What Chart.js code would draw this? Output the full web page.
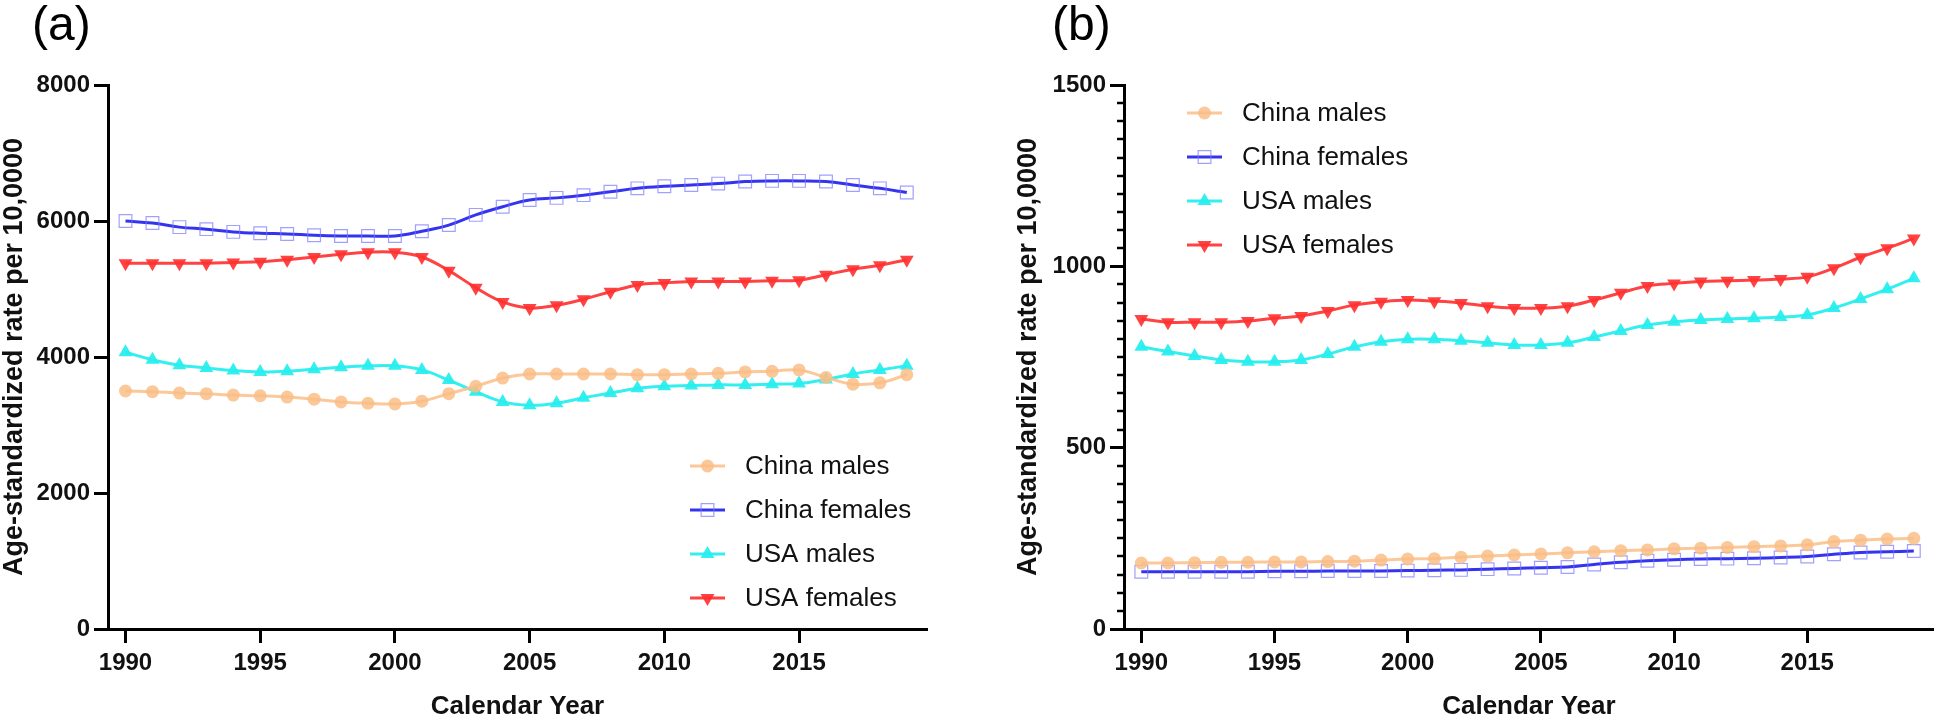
<!DOCTYPE html>
<html>
<head>
<meta charset="utf-8">
<script src="https://cdn.jsdelivr.net/npm/chart.js@4/dist/chart.umd.min.js"></script>
<style>
  body { margin: 0; background: #fff; }
  canvas { position: absolute; top: 0; }
  #chart_a { left: 0; }
  #chart_b { left: 970px; }
</style>
</head>
<body>
<canvas id="chart_a" width="960" height="720"></canvas>
<canvas id="chart_b" width="974" height="720"></canvas>
<script>
var years = [1990, 1991, 1992, 1993, 1994, 1995, 1996, 1997, 1998, 1999,
             2000, 2001, 2002, 2003, 2004, 2005, 2006, 2007, 2008, 2009,
             2010, 2011, 2012, 2013, 2014, 2015, 2016, 2017, 2018, 2019];
var xTicks = [1990, 1995, 2000, 2005, 2010, 2015];

// panel (a)
var chinaMalesA = [3500, 3490, 3470, 3460, 3440, 3430, 3410, 3380, 3340, 3320, 3310, 3350, 3460, 3570, 3690, 3750, 3750, 3750, 3750, 3740, 3740, 3750, 3760, 3780, 3790, 3810, 3700, 3600, 3620, 3740];
var chinaFemalesA = [6000, 5970, 5910, 5880, 5840, 5820, 5810, 5790, 5780, 5780, 5780, 5850, 5940, 6090, 6210, 6310, 6340, 6380, 6430, 6480, 6510, 6530, 6550, 6580, 6590, 6590, 6580, 6530, 6480, 6420];
var usaMalesA = [4070, 3960, 3880, 3840, 3800, 3780, 3790, 3820, 3850, 3870, 3870, 3810, 3660, 3490, 3340, 3290, 3320, 3400, 3470, 3540, 3570, 3580, 3590, 3590, 3600, 3610, 3670, 3750, 3810, 3870];
var usaFemalesA = [5380, 5380, 5380, 5380, 5390, 5400, 5430, 5470, 5510, 5540, 5540, 5470, 5270, 5020, 4810, 4720, 4760, 4850, 4960, 5060, 5090, 5110, 5110, 5110, 5120, 5130, 5210, 5290, 5350, 5430];
var yTicksA = [0, 2000, 4000, 6000, 8000];

// panel (b)
var chinaMalesB = [182, 182, 183, 184, 184, 185, 185, 186, 187, 190, 193, 194, 198, 201, 204, 207, 210, 213, 216, 218, 221, 223, 225, 227, 229, 232, 241, 245, 248, 250];
var chinaFemalesB = [158, 158, 158, 158, 158, 159, 159, 160, 160, 160, 161, 162, 163, 165, 167, 169, 171, 178, 184, 188, 191, 193, 194, 195, 197, 200, 206, 211, 213, 215];
var usaMalesB = [778, 765, 753, 742, 737, 737, 742, 758, 778, 792, 799, 799, 795, 789, 783, 783, 789, 805, 822, 838, 847, 852, 855, 857, 860, 866, 885, 910, 937, 967];
var usaFemalesB = [855, 846, 846, 846, 849, 857, 863, 877, 893, 902, 907, 904, 899, 890, 885, 885, 890, 907, 927, 946, 953, 958, 960, 962, 965, 971, 995, 1025, 1050, 1077];
var yTicksB = [0, 500, 1000, 1500];

var seriesNames = ['China males', 'China females', 'USA males', 'USA females'];

var FONT = 'Arial, "Liberation Sans", Helvetica, sans-serif';

function pts(values) {
  return years.map(function (y, i) { return { x: y, y: values[i] }; });
}

function makeDatasets(cm, cf, um, uf) {
  return [
    {
      label: seriesNames[0], data: pts(cm),
      borderColor: 'rgba(250,190,135,0.85)', borderWidth: 3,
      pointStyle: 'circle', pointRadius: 6.5,
      pointBackgroundColor: 'rgba(250,190,135,0.85)', pointBorderWidth: 0
    },
    {
      label: seriesNames[1], data: pts(cf),
      borderColor: '#3434F0', borderWidth: 3,
      pointStyle: 'rect', pointRadius: 9,
      pointBackgroundColor: 'rgba(0,0,0,0)', pointBorderColor: 'rgba(120,120,255,0.7)', pointBorderWidth: 1.2
    },
    {
      label: seriesNames[2], data: pts(um),
      borderColor: 'rgba(40,238,238,0.95)', borderWidth: 3,
      pointStyle: 'triangle', pointRadius: 8,
      pointBackgroundColor: 'rgba(40,238,238,0.95)', pointBorderWidth: 0
    },
    {
      label: seriesNames[3], data: pts(uf),
      borderColor: 'rgba(255,50,50,0.92)', borderWidth: 3,
      pointStyle: 'triangle', pointRotation: 180, pointRadius: 8,
      pointBackgroundColor: 'rgba(255,50,50,0.92)', pointBorderWidth: 0
    }
  ];
}

// legend drawn inside the plot, GraphPad style
function legendPlugin(x0, y0, gap) {
  return {
    id: 'innerLegend',
    afterDraw: function (chart) {
      var ctx = chart.ctx;
      ctx.save();
      chart.data.datasets.forEach(function (ds, i) {
        var y = y0 + i * gap;
        ctx.strokeStyle = ds.borderColor;
        ctx.lineWidth = ds.borderWidth;
        ctx.beginPath();
        ctx.moveTo(x0, y);
        ctx.lineTo(x0 + 35, y);
        ctx.stroke();
        var opts = {
          pointStyle: ds.pointStyle, radius: ds.pointRadius,
          rotation: ds.pointRotation || 0, borderWidth: ds.pointBorderWidth
        };
        ctx.fillStyle = ds.pointBackgroundColor;
        ctx.strokeStyle = ds.pointBorderColor || ds.pointBackgroundColor;
        ctx.lineWidth = ds.pointBorderWidth || 0;
        Chart.helpers.drawPoint(ctx, opts, x0 + 17.5, y);
        ctx.fillStyle = '#111';
        ctx.font = '26px ' + FONT;
        ctx.textBaseline = 'middle';
        ctx.textAlign = 'left';
        ctx.fillText(ds.label, x0 + 55, y + 1);
      });
      ctx.restore();
    }
  };
}

function panelLabel(text, x, y) {
  return {
    id: 'panelLabel',
    afterDraw: function (chart) {
      var ctx = chart.ctx;
      ctx.save();
      ctx.fillStyle = '#000';
      ctx.font = '48px ' + FONT;
      ctx.textBaseline = 'alphabetic';
      ctx.fillText(text, x, y);
      ctx.restore();
    }
  };
}

var minorTicks = {
  id: 'minorTicks',
  afterDraw: function (chart) {
    var ctx = chart.ctx, ys = chart.scales.y, left = chart.chartArea.left;
    ctx.save();
    ctx.strokeStyle = '#000';
    ctx.lineWidth = 2.5;
    for (var v = 50; v < 1500; v += 50) {
      if (v % 500 === 0) continue;
      var py = Math.round(ys.getPixelForValue(v));
      ctx.beginPath();
      ctx.moveTo(left - 7, py);
      ctx.lineTo(left, py);
      ctx.stroke();
    }
    ctx.restore();
  }
};

function makeOptions(yMax, yTicks, yWidth, padLeft, padRight, yTitlePad) {
  return {
    responsive: false,
    animation: false,
    layout: { padding: { top: 85, right: padRight, left: padLeft, bottom: 0 } },
    elements: { line: { tension: 0.4 } },
    plugins: { legend: { display: false }, tooltip: { enabled: false } },
    scales: {
      x: {
        type: 'linear', min: 1989.35, max: 2019.75,
        afterBuildTicks: function (scale) {
          scale.ticks = xTicks.map(function (v) { return { value: v }; });
        },
        afterFit: function (scale) { scale.height = 91; },
        grid: { drawOnChartArea: false, tickLength: 14, tickWidth: 3, tickColor: '#000' },
        border: { display: true, width: 3, color: '#000' },
        ticks: {
          color: '#111', padding: 6, autoSkip: false, maxRotation: 0,
          font: { family: FONT, size: 24, weight: 'bold' },
          callback: function (v) { return String(v); }
        },
        title: {
          display: true, text: 'Calendar Year', color: '#111',
          font: { family: FONT, size: 26, weight: 'bold', lineHeight: 1 },
          padding: { top: 0, bottom: 0 }
        }
      },
      y: {
        min: 0, max: yMax,
        afterBuildTicks: function (scale) {
          scale.ticks = yTicks.map(function (v) { return { value: v }; });
        },
        afterFit: function (scale) { scale.width = yWidth; },
        grid: { drawOnChartArea: false, tickLength: 14, tickWidth: 3, tickColor: '#000' },
        border: { display: true, width: 3, color: '#000' },
        ticks: {
          color: '#111', padding: 4,
          font: { family: FONT, size: 24, weight: 'bold' },
          callback: function (v) { return String(v); }
        },
        title: {
          display: true, text: 'Age-standardized rate per 10,0000', color: '#111',
          font: { family: FONT, size: 27, weight: 'bold', lineHeight: 1 },
          padding: { top: yTitlePad, bottom: 0 }
        }
      }
    },
    datasets: { line: { clip: false } }
  };
}

var chartA = new Chart(document.getElementById('chart_a').getContext('2d'), {
  type: 'line',
  data: { datasets: makeDatasets(chinaMalesA, chinaFemalesA, usaMalesA, usaFemalesA) },
  options: makeOptions(8000, yTicksA, 108, 0, 33, 1),
  plugins: [legendPlugin(690, 466, 44), panelLabel('(a)', 32, 40)]
});

var chartB = new Chart(document.getElementById('chart_b').getContext('2d'), {
  type: 'line',
  data: { datasets: makeDatasets(chinaMalesB, chinaFemalesB, usaMalesB, usaFemalesB) },
  options: makeOptions(1500, yTicksB, 154, 0, 1, 45),
  plugins: [legendPlugin(217, 113, 44), panelLabel('(b)', 82, 40), minorTicks]
});
</script>
</body>
</html>
